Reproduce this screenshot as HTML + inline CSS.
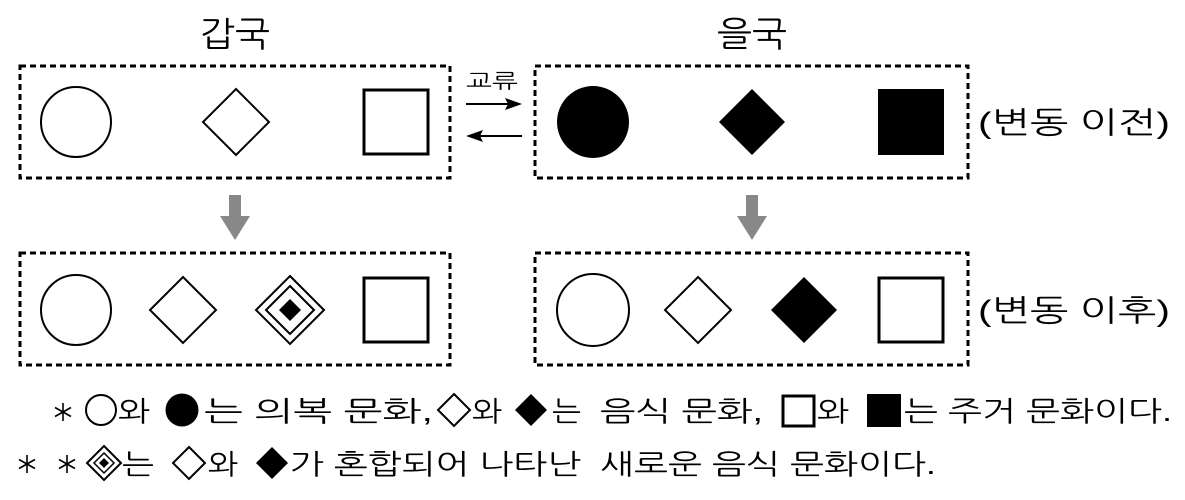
<!DOCTYPE html>
<html><head><meta charset="utf-8"><style>
html,body{margin:0;padding:0;background:#fff;width:1185px;height:500px;overflow:hidden}
text{font-family:"Liberation Sans","NanumGothic","Noto Sans CJK KR",sans-serif;fill:#000}
</style></head><body>
<svg width="1185" height="500" viewBox="0 0 1185 500" xmlns="http://www.w3.org/2000/svg">
<defs>
<g id="ast" stroke="#000" stroke-width="1.6"><line x1="0" y1="-9" x2="0" y2="9"/><line x1="-8" y1="-4.5" x2="8" y2="4.5"/><line x1="-8" y1="4.5" x2="8" y2="-4.5"/></g>
</defs>
<g fill="none" stroke="#000" stroke-width="3" stroke-dasharray="6,4">
<rect x="20" y="66" width="430" height="112"/>
<rect x="535" y="66" width="433" height="112"/>
<rect x="20" y="253" width="430" height="112"/>
<rect x="535" y="253" width="433" height="112"/>
</g>
<text x="235" y="46" font-size="34" text-anchor="middle" textLength="70" lengthAdjust="spacingAndGlyphs">갑국</text>
<text x="752" y="46" font-size="34" text-anchor="middle" textLength="70" lengthAdjust="spacingAndGlyphs">을국</text>
<text x="466" y="88" font-size="20" textLength="52" lengthAdjust="spacingAndGlyphs">교류</text>
<g stroke="#000" stroke-width="2"><line x1="466" y1="104" x2="508" y2="104"/><line x1="480" y1="136" x2="522" y2="136"/></g>
<polygon points="522,104 505,98 508,104 505,110" fill="#000"/>
<polygon points="466,136 483,130 480,136 483,142" fill="#000"/>
<g fill="none" stroke="#000" stroke-width="2">
<circle cx="76" cy="122" r="35"/>
<polygon points="236,89 269,122 236,155 203,122"/>
</g>
<rect x="364" y="90" width="64" height="64" fill="none" stroke="#000" stroke-width="3"/>
<circle cx="593" cy="122" r="36" fill="#000"/>
<polygon points="752,89 785,122 752,155 719,122" fill="#000"/>
<rect x="878" y="89" width="66" height="66" fill="#000"/>
<text x="978" y="133" font-size="30" textLength="192" lengthAdjust="spacingAndGlyphs">(변동 이전)</text>
<g fill="#888"><rect x="229" y="195" width="12" height="22"/><polygon points="220,216 250,216 235,240"/>
<rect x="746" y="195" width="12" height="22"/><polygon points="737,216 767,216 752,240"/></g>
<g fill="none" stroke="#000" stroke-width="2">
<circle cx="76" cy="310" r="35"/>
<polygon points="183,277 216,310 183,343 150,310"/>
<polygon points="290,276 324,310 290,344 256,310"/>
<polygon points="290,286 314,310 290,334 266,310"/>
<circle cx="593" cy="310" r="36"/>
<polygon points="698,277 731,310 698,343 665,310"/>
</g>
<polygon points="290,299 301,310 290,321 279,310" fill="#000"/>
<rect x="364" y="278" width="64" height="64" fill="none" stroke="#000" stroke-width="3"/>
<polygon points="804,277 837,310 804,343 771,310" fill="#000"/>
<rect x="879" y="278" width="64" height="64" fill="none" stroke="#000" stroke-width="3"/>
<text x="978" y="321" font-size="30" textLength="192" lengthAdjust="spacingAndGlyphs">(변동 이후)</text>
<g font-size="28" lengthAdjust="spacingAndGlyphs">
<use href="#ast" x="63" y="412"/>
<circle cx="101" cy="410" r="15" fill="none" stroke="#000" stroke-width="2"/>
<text x="118" y="421" textLength="32" lengthAdjust="spacingAndGlyphs">와</text>
<circle cx="182" cy="410" r="16.5" fill="#000"/>
<text x="204" y="421" textLength="229" lengthAdjust="spacingAndGlyphs">는 의복 문화,</text>
<polygon points="454,394 470,410 454,426 438,410" fill="none" stroke="#000" stroke-width="2"/>
<text x="472" y="421" textLength="30" lengthAdjust="spacingAndGlyphs">와</text>
<polygon points="531,394 547,410 531,426 515,410" fill="#000"/>
<text x="552" y="421" textLength="29" lengthAdjust="spacingAndGlyphs">는</text>
<text x="600" y="421" textLength="163" lengthAdjust="spacingAndGlyphs">음식 문화,</text>
<rect x="783" y="396" width="31" height="30" fill="none" stroke="#000" stroke-width="3"/>
<text x="817" y="421" textLength="32" lengthAdjust="spacingAndGlyphs">와</text>
<rect x="867" y="394" width="34" height="33" fill="#000"/>
<text x="904" y="421" textLength="268" lengthAdjust="spacingAndGlyphs">는 주거 문화이다.</text>
<use href="#ast" x="27" y="464"/>
<use href="#ast" x="67" y="464"/>
<polygon points="104,446 121,463 104,480 87,463" fill="none" stroke="#000" stroke-width="2"/>
<polygon points="104,453 114,463 104,473 94,463" fill="none" stroke="#000" stroke-width="1.5"/>
<polygon points="104,458 109,463 104,468 99,463" fill="#000"/>
<text x="122" y="474" textLength="32" lengthAdjust="spacingAndGlyphs">는</text>
<polygon points="189,447 205,463 189,479 173,463" fill="none" stroke="#000" stroke-width="2"/>
<text x="208" y="474" textLength="30" lengthAdjust="spacingAndGlyphs">와</text>
<polygon points="272,447 288,463 272,479 256,463" fill="#000"/>
<text x="290" y="474" textLength="291" lengthAdjust="spacingAndGlyphs">가 혼합되어 나타난</text>
<text x="600" y="474" textLength="336" lengthAdjust="spacingAndGlyphs">새로운 음식 문화이다.</text>
</g>
</svg>
</body></html>
